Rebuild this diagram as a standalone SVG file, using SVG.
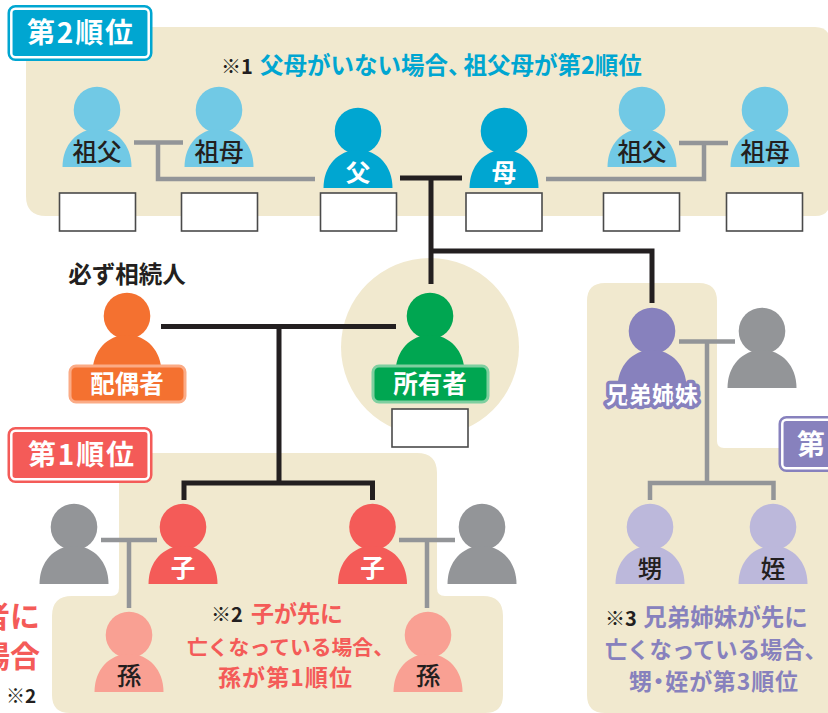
<svg xmlns="http://www.w3.org/2000/svg" width="828" height="713" viewBox="0 0 828 713">
<style>
text{font-family:"Noto Sans CJK JP","Noto Sans",sans-serif;text-anchor:middle}
.bg{fill:#f1e9cf}
.k{fill:none;stroke:#231f20;stroke-width:5}
.g{fill:none;stroke:#939598;stroke-width:4.500}
.box{fill:#fff;stroke:#4a4a4a;stroke-width:1.600}
.lb{font-size:24.500px;fill:#231f20;font-weight:500}
.lw{font-size:24.500px;fill:#fff;font-weight:700}
.n{font-size:23px;font-weight:700}
.st{text-anchor:start}
.b{font-size:28px;font-weight:700;fill:#fff}
.c1{fill:#00a6d1}.c2{fill:#71c9e5}.c3{fill:#f47130}.c4{fill:#00a651}.c5{fill:#f45b58}.c6{fill:#f9a093}.c7{fill:#8781bd}.c8{fill:#bcb8db}.c9{fill:#939598}
.dk{fill:#231f20}
</style>
<defs>
<g id="p"><circle cx="0" cy="0" r="23.300"/><path d="M-34.500 57C-34.500 35 -20 19 0 19C20 19 34.500 35 34.500 57Z"/></g>
</defs>
<g id="backgrounds">
<path class="bg" d="M46 27H815Q830 27 830 42V201Q830 216 815 216H46Q26 216 26 196V47Q26 27 46 27Z"/>
<circle class="bg" cx="430" cy="347" r="89"/>
<path class="bg" d="M139 453H417Q437 453 437 473V588Q437 596 445 596H483Q503 596 503 616V695Q503 713 485 713H70Q52 713 52 695V616Q52 596 72 596H111Q119 596 119 588V453Z"/>
<path class="bg" d="M605 283H699Q717 283 717 301V441Q717 448 724 448H830V713H605Q587 713 587 695V301Q587 283 605 283Z"/>
</g>
<g id="connectors">
<path class="k" d="M400 178H462M431 178V284M431 251H652V303"/>
<path class="k" d="M161 326.500H396M279 326.500V483M184 500V483H372.500V500"/>
<path class="g" d="M134 142.500H183M158 142.500V179H315"/>
<path class="g" d="M546 179H704V143M679 143H728"/>
<path class="g" d="M679 341.500H735M707 341.500V483M650 500V483H773.500V500"/>
<path class="g" d="M101 540H157M129 540V608"/>
<path class="g" d="M399 540H455M427 540V608"/>
</g>
<g id="n-gf1"><use href="#p" class="c2" x="97" y="110"/><text class="lb" x="97" y="161">祖父</text><rect class="box" x="59.500" y="193" width="76" height="38"/></g>
<g id="n-gm1"><use href="#p" class="c2" x="219" y="110"/><text class="lb" x="219" y="161">祖母</text><rect class="box" x="181.500" y="193" width="76" height="38"/></g>
<g id="n-father"><use href="#p" class="c1" x="358" y="131"/><text class="lw" x="358" y="182">父</text><rect class="box" x="320.500" y="193" width="76" height="38"/></g>
<g id="n-mother"><use href="#p" class="c1" x="504" y="131"/><text class="lw" x="504" y="182">母</text><rect class="box" x="466" y="193" width="76" height="38"/></g>
<g id="n-gf2"><use href="#p" class="c2" x="642" y="110"/><text class="lb" x="642" y="161">祖父</text><rect class="box" x="603.500" y="193" width="76" height="38"/></g>
<g id="n-gm2"><use href="#p" class="c2" x="765" y="110"/><text class="lb" x="765" y="161">祖母</text><rect class="box" x="726.500" y="193" width="76" height="38"/></g>
<g id="n-spouse"><text x="127" y="283" font-size="23.500" font-weight="700" class="dk">必ず相続人</text><use href="#p" class="c3" x="127" y="316"/><rect x="70" y="366" width="115" height="36" rx="6" class="c3" stroke="#fbab86" stroke-width="3"/><text class="lw" x="127" y="393">配偶者</text></g>
<g id="n-owner"><use href="#p" class="c4" x="430" y="316"/><rect x="373" y="366" width="115" height="36" rx="6" class="c4" stroke="#7fcfa0" stroke-width="3"/><text class="lw" x="430" y="393">所有者</text><rect class="box" x="392" y="409" width="76" height="38"/></g>
<g id="n-sibling"><use href="#p" class="c7" x="652" y="331"/><text x="652" y="403" font-size="23" font-weight="700" fill="#fff" stroke="#8781bd" stroke-width="7" stroke-linejoin="round" paint-order="stroke" textLength="92" lengthAdjust="spacing">兄弟姉妹</text></g>
<g id="n-sib-spouse"><use href="#p" class="c9" x="762" y="331"/></g>
<g id="n-child1"><use href="#p" class="c5" x="183" y="527"/><text class="lw" x="183" y="577">子</text></g>
<g id="n-child2"><use href="#p" class="c5" x="372.500" y="527"/><text class="lw" x="372.500" y="577">子</text></g>
<g id="n-c-spouse1"><use href="#p" class="c9" x="74" y="527"/></g>
<g id="n-c-spouse2"><use href="#p" class="c9" x="482" y="527"/></g>
<g id="n-gc1"><use href="#p" class="c6" x="129" y="635"/><text class="lb" x="129" y="685">孫</text></g>
<g id="n-gc2"><use href="#p" class="c6" x="428" y="635"/><text class="lb" x="428" y="685">孫</text></g>
<g id="n-nephew"><use href="#p" class="c8" x="650" y="527"/><text class="lb" x="650" y="578">甥</text></g>
<g id="n-niece"><use href="#p" class="c8" x="773" y="527"/><text class="lb" x="773" y="578">姪</text></g>
<g id="badges">
<rect x="8.500" y="6" width="143" height="54" rx="7" class="c1" stroke="#00a6d1" stroke-width="2"/><rect x="11.300" y="8.800" width="137.400" height="48.400" rx="4" class="c1" stroke="#fff" stroke-width="2.500"/><text class="b" x="80" y="43" textLength="106" lengthAdjust="spacing">第2順位</text>
<rect x="8.500" y="428" width="143" height="54" rx="7" class="c5" stroke="#f45b58" stroke-width="2"/><rect x="11.300" y="430.800" width="137.400" height="48.400" rx="4" class="c5" stroke="#fff" stroke-width="2.500"/><text class="b" x="81" y="465" textLength="106" lengthAdjust="spacing">第1順位</text>
<rect x="779.500" y="417" width="60" height="54" rx="7" class="c7" stroke="#8781bd" stroke-width="2"/><rect x="782.300" y="419.800" width="60" height="48.400" rx="4" class="c7" stroke="#fff" stroke-width="2.500"/><text class="b" x="811" y="455">第</text>
</g>
<g id="notes">
<text class="n dk" x="237" y="74" style="font-size:20px">※1</text><text class="n c1 st" x="260" y="74" style="font-size:23.500px">父母がいない場合、<tspan dx="-8">祖父母が第2順位</tspan></text>
<text class="n dk" x="227" y="622" style="font-size:20px">※2</text><text class="n c5" x="297" y="622">子が先に</text>
<text class="n c5 st" x="187" y="655" style="font-size:20.800px">亡くなっている場合、</text>
<text class="n c5" x="285" y="686" textLength="134" lengthAdjust="spacing">孫が第1順位</text>
<text class="n dk" x="621" y="626" style="font-size:20px">※3</text><text class="n c7" x="725.500" y="626" style="font-size:23.500px">兄弟姉妹が先に</text>
<text class="n c7 st" x="605" y="658" style="font-size:22.300px">亡くなっている場合、</text>
<text class="n c7 st" x="629" y="690" style="font-feature-settings:'palt'" textLength="169" lengthAdjust="spacing">甥・姪が第3順位</text>
<text x="40" y="627" font-size="30" font-weight="700" class="c5" style="text-anchor:end">者に</text>
<text x="40" y="667" font-size="30" font-weight="700" class="c5" style="text-anchor:end">場合</text>
<text x="21" y="703" font-size="19" font-weight="700" class="dk">※2</text>
</g>
</svg>
